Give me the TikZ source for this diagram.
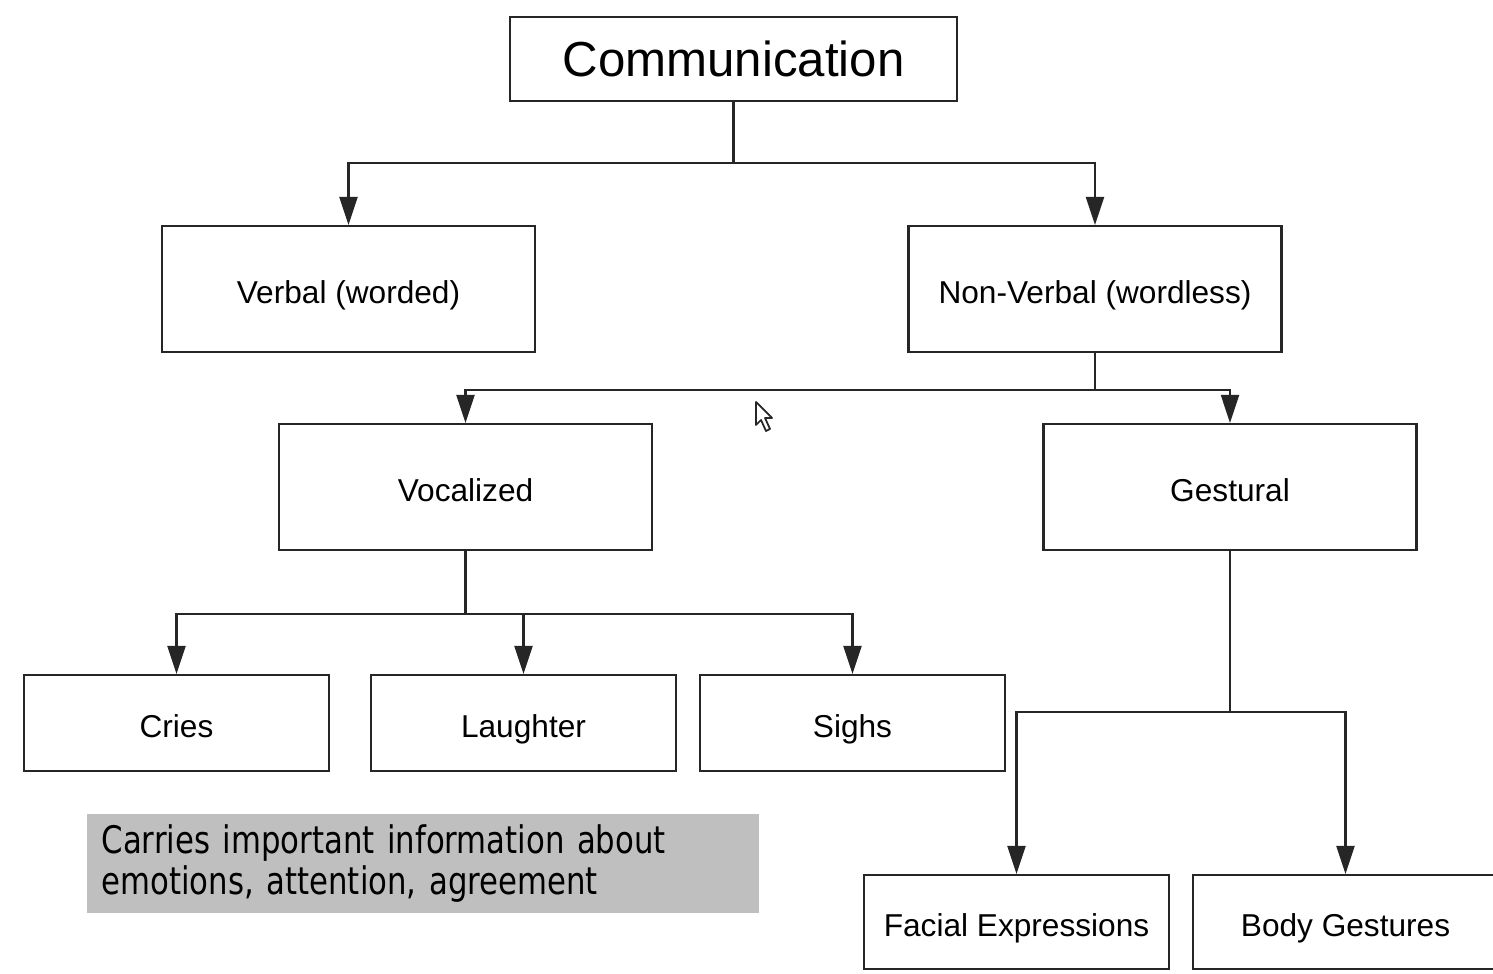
\documentclass[tikz,border=0pt]{standalone}
\usepackage{fontspec}
\setmainfont{Liberation Sans}
\newfontfamily\notefont[FakeStretch=0.9]{DejaVu Sans Condensed}
\usetikzlibrary{arrows.meta}
\colorlet{background}{white}
\colorlet{penColor}{black!85}
\colorlet{noteFill}{black!25}
\tikzset{
  box/.style={draw=penColor, line width=0.6pt, inner sep=0pt, align=center,
              text height=10pt, text depth=1.6pt,
              font=\fontsize{9}{11}\selectfont},
  topbox/.style={box, minimum width=4.47cm, minimum height=0.84cm,
              text height=12pt, text depth=2pt,
              font=\fontsize{14}{16}\selectfont},
  midbox/.style={box, minimum width=3.73cm, minimum height=1.26cm},
  leafbox/.style={box, minimum width=3.05cm, minimum height=0.96cm},
  link/.style={draw=penColor, line width=0.6pt},
  arrowlink/.style={link, -{Triangle[length=2.8mm, width=1.8mm]}},
}
\begin{document}
\begin{tikzpicture}
    \useasboundingbox[fill=background] (0,0) rectangle (14.93,-9.74);
      % boxes
      \node[topbox] (comm) at (7.335,-0.59) {Communication};
      \node[midbox] (verbal) at (3.485,-2.89) {Verbal (worded)};
      \node[midbox] (nonverbal) at (10.95,-2.89) {Non-Verbal (wordless)};
      \node[midbox] (vocal) at (4.655,-4.87) {Vocalized};
      \node[midbox] (gestural) at (12.30,-4.87) {Gestural};
      \node[leafbox] (cries) at (1.765,-7.23) {Cries};
      \node[leafbox] (laughter) at (5.235,-7.23) {Laughter};
      \node[leafbox] (sighs) at (8.525,-7.23) {Sighs};
      \node[leafbox, minimum height=0.94cm] (facial) at (10.165,-9.22) {Facial Expressions};
      \node[leafbox, minimum height=0.94cm] (body) at (13.455,-9.22) {Body Gestures};
      % junctions
      \coordinate (j1) at (7.335,-1.63);
      \coordinate (j2) at (10.95,-3.90);
      \coordinate (j3) at (4.655,-6.14);
      \coordinate (j4) at (12.30,-7.12);
      % connectors
      \draw[link] (comm) -- (j1);
      \draw[arrowlink] (j1) -| (verbal.north);
      \draw[arrowlink] (j1) -| (nonverbal.north);
      \draw[link] (nonverbal) -- (j2);
      \draw[arrowlink] (j2) -| (vocal.north);
      \draw[arrowlink] (j2) -| (gestural.north);
      \draw[link] (vocal) -- (j3);
      \draw[arrowlink] (j3) -| (cries.north);
      \draw[arrowlink] (j3) -| (laughter.north);
      \draw[arrowlink] (j3) -| (sighs.north);
      \draw[link] (gestural) -- (j4);
      \draw[arrowlink] (j4) -| (facial.north);
      \draw[arrowlink] (j4) -| (body.north);
      % note
      \node[fill=noteFill, anchor=north west, minimum width=6.72cm, minimum height=0.99cm,
            text width=6.42cm, inner xsep=0.15cm, inner ysep=0pt, align=left,
            font=\notefont\fontsize{10.8}{11.6}\selectfont] (note) at (0.86,-8.13)
            {\raisebox{-0.08cm}{Carries important information about}\\
             \raisebox{-0.08cm}{emotions, attention, agreement}};
      % pointer
      \draw[penColor, fill=white, line width=0.5pt, line join=round]
        (7.56,-4.02) -- (7.56,-4.25) -- (7.61,-4.20) -- (7.66,-4.31) -- (7.70,-4.29)
        -- (7.65,-4.18) -- (7.72,-4.18) -- cycle;
    \end{tikzpicture}
\end{document}
